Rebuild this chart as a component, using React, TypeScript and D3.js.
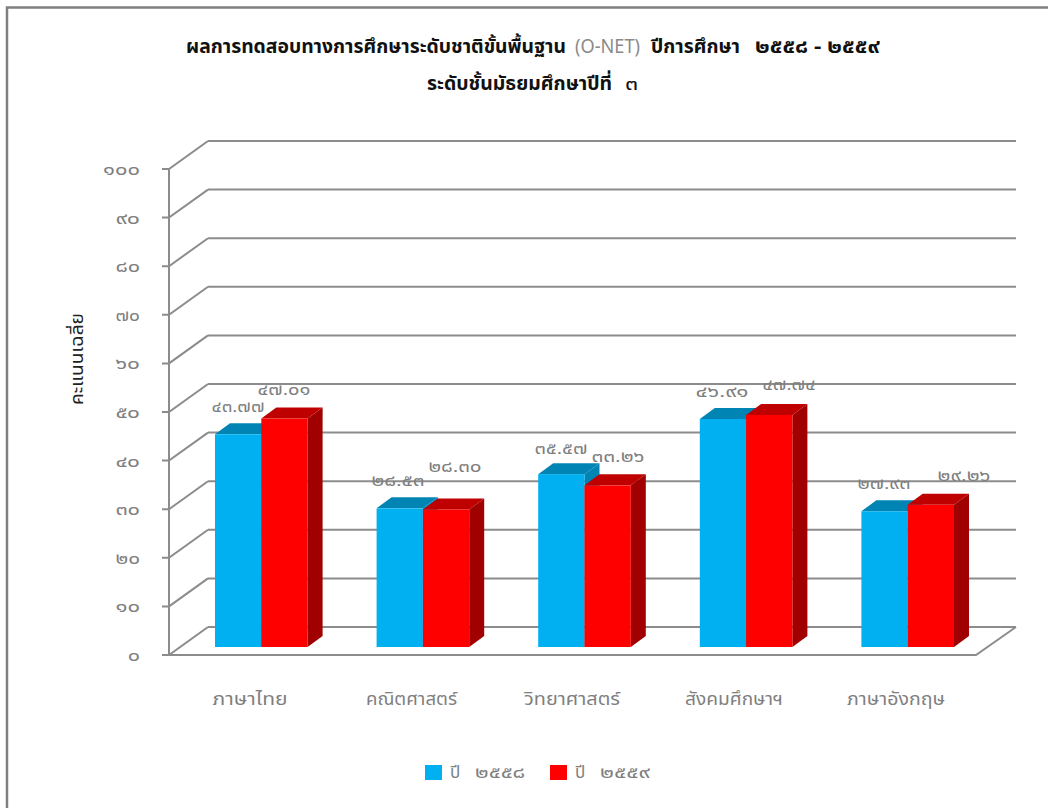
import React from "react";
import * as d3 from "d3";

const categories = ["ภาษาไทย", "คณิตศาสตร์", "วิทยาศาสตร์", "สังคมศึกษาฯ", "ภาษาอังกฤษ"];
const series2558 = [43.77, 28.53, 35.57, 46.91, 27.93];
const series2559 = [47.01, 28.3, 33.26, 47.74, 29.26];
const yTicks = [0, 10, 20, 30, 40, 50, 60, 70, 80, 90, 100];
const yTitle = "คะแนนเฉลี่ย";
const legendYear = ["๒๕๕๘", "๒๕๕๙"];
// title pieces: text, left, right, baseline, weight, colour
const titleSpans: [string, number, number, number, number, string][] = [
  ["ผลการทดสอบทางการศึกษาระดับชาติขั้นพื้นฐาน", 186, 566, 53, 700, "#111"],
  ["(O-NET)", 575, 640, 53, 400, "#8a8a8a"],
  ["ปีการศึกษา", 651, 740, 53, 700, "#111"],
  ["๒๕๕๘ - ๒๕๕๙", 755, 880, 53, 700, "#111"],
  ["ระดับชั้นมัธยมศึกษาปีที่", 427, 612, 90, 700, "#111"],
  ["๓", 625, 638, 90, 400, "#111"],
];
const categoryCentres = [250, 411.5, 572, 734, 896];
const categoryWidths = [75, 91, 96, 98, 98];
const labelPos2558 = [[238, 407], [398, 481], [561, 449], [722, 392], [884, 484]];
const labelPos2559 = [[284, 390], [455, 467], [618, 457], [789, 385], [964, 476]];

const FONT = "'Noto Sans', 'Noto Sans Thai', Tahoma, 'Noto Sans CJK SC', sans-serif";
const thai = (s: string) => s.replace(/[0-9]/g, (d) => "๐๑๒๓๔๕๖๗๘๙"[+d]);

const DX = 39, DY = 28;
const y = d3.scaleLinear().domain([0, 100]).range([655, 169]);
const x = d3.scaleBand<number>().domain(d3.range(5)).range([189, 997]);
const BW = 46.3, BDX = 15, BDY = 11, BASE_SHIFT = 8;

function Bar({ left, v, front, top, side }: any) {
  const h = y(0) - y(v);
  const base = y(0) - BASE_SHIFT;
  const t = base - h;
  const p = (a: number[][]) => a.map((q) => q.join(",")).join(" ");
  return (
    <g>
      <polygon fill={side} points={p([[left + BW, t], [left + BW + BDX, t - BDY], [left + BW + BDX, base - BDY], [left + BW, base]])} />
      <polygon fill={top} points={p([[left, t], [left + BDX, t - BDY], [left + BW + BDX, t - BDY], [left + BW, t]])} />
      <rect x={left} y={t} width={BW} height={h} fill={front} />
    </g>
  );
}

export default function App() {
  const gridC = "#8c8c8c", textC = "#7f7f7f";
  const digitW = (s: string) => s.replace(".", "").length * 12.3 + (s.includes(".") ? 5 : 0);
  return (
    <svg width={1048} height={808} style={{ position: "absolute", left: 0, top: 0, background: "#fff", fontFamily: FONT }}>
      <path d="M7 808V7.5H1048" fill="none" stroke="#808080" strokeWidth={2.5} />
      {titleSpans.map(([s, l, r, b, w, c], i) => (
        <text key={i} x={l} y={b} textLength={r - l} lengthAdjust="spacingAndGlyphs" fontSize={19} fontWeight={w} fill={c}>{s}</text>
      ))}
      {yTicks.map((t) => {
        const s = thai(String(t));
        return (
          <g key={t}>
            {t > 0 && <line x1={208} x2={1016} y1={y(t) - DY} y2={y(t) - DY} stroke={gridC} strokeWidth={2} />}
            <polyline fill="none" stroke={gridC} strokeWidth={2} points={`162,${y(t)} 169,${y(t)} ${169 + DX},${y(t) - DY}`} />
            <text x={140} y={y(t) + 6} textAnchor="end" textLength={digitW(s)} lengthAdjust="spacingAndGlyphs" fontSize={15} fill={textC}>{s}</text>
          </g>
        );
      })}
      <line x1={208} x2={1016} y1={y(0) - DY} y2={y(0) - DY} stroke={gridC} strokeWidth={2} />
      <line x1={169} x2={169} y1={y(100)} y2={y(0)} stroke={gridC} strokeWidth={2} />
      <polyline fill="none" stroke={gridC} strokeWidth={2} points={`169,${y(0)} 976,${y(0)} 1016,${y(0) - DY}`} />
      <text transform="translate(83,359) rotate(-90)" textAnchor="middle" textLength={92} lengthAdjust="spacingAndGlyphs" fontSize={17} fill="#222">{yTitle}</text>
      {categories.map((c, i) => {
        const left = (x(i) as number) + 26;
        const a = series2558[i], b = series2559[i];
        const sa = thai(a.toFixed(2)), sb = thai(b.toFixed(2));
        return (
          <g key={c}>
            <Bar left={left} v={a} front="#00b0f0" top="#0084b4" side="#0084b4" />
            <Bar left={left + BW} v={b} front="#ff0000" top="#bf0000" side="#a00000" />
            <text x={labelPos2558[i][0]} y={labelPos2558[i][1] + 5} textAnchor="middle" textLength={53} lengthAdjust="spacingAndGlyphs" fontSize={15} fill={textC}>{sa}</text>
            <text x={labelPos2559[i][0]} y={labelPos2559[i][1] + 5} textAnchor="middle" textLength={53} lengthAdjust="spacingAndGlyphs" fontSize={15} fill={textC}>{sb}</text>
            <text x={categoryCentres[i]} y={705} textAnchor="middle" textLength={categoryWidths[i]} lengthAdjust="spacingAndGlyphs" fontSize={18} fill={textC}>{c}</text>
          </g>
        );
      })}
      {legendYear.map((s, i) => (
        <g key={s}>
          <rect x={425 + i * 125} y={765} width={17} height={15} fill={i ? "#ff0000" : "#00b0f0"} />
          <text x={450 + i * 125} y={778} fontSize={17} fill={textC}>ปี</text>
          <text x={475 + i * 125} y={778} textLength={50} lengthAdjust="spacingAndGlyphs" fontSize={16} fill={textC}>{s}</text>
        </g>
      ))}
    </svg>
  );
}
